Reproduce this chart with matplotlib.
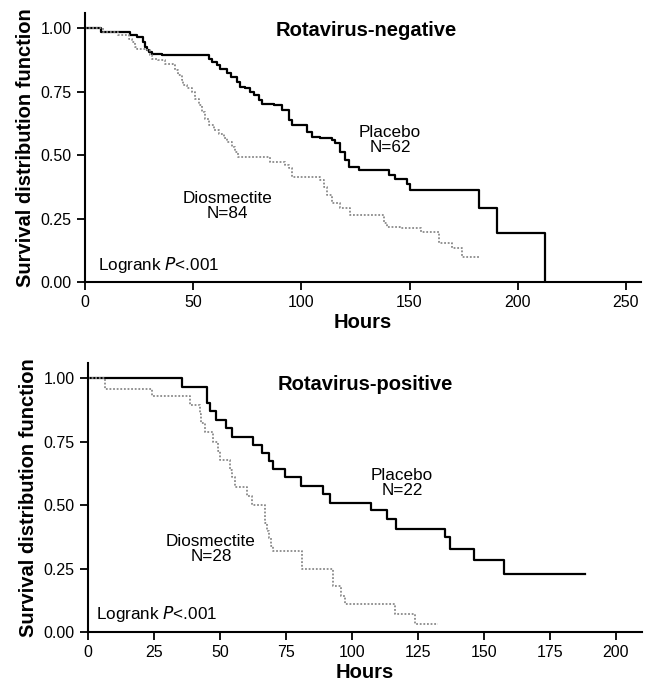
import matplotlib
matplotlib.use("Agg")
import matplotlib.pyplot as plt

plt.rcParams["font.family"] = ["Liberation Sans", "DejaVu Sans"]

# Rotavirus-negative (hours, survival after each step)
neg_placebo_t = [0, 7.6, 20.8, 23.9, 27.0, 27.8, 28.6, 29.4, 30.9, 35.5, 57.4, 58.5, 60.9, 62.5,
                 65.6, 67.6, 70.2, 71.8, 73.9, 76.4, 78.1, 80.2, 81.8, 87.2, 91.0, 94.2, 95.7,
                 102.6, 105.0, 108.8, 114.2, 115.7, 118.1, 120.4, 121.9, 126.5, 140.4, 143.5,
                 148.9, 150.4, 182.0, 190.5, 212.5]
neg_placebo_s = [1.0, 0.984, 0.972, 0.965, 0.946, 0.926, 0.916, 0.907, 0.900, 0.895, 0.880, 0.867,
                 0.854, 0.841, 0.822, 0.808, 0.789, 0.769, 0.763, 0.749, 0.736, 0.717, 0.703,
                 0.697, 0.677, 0.638, 0.618, 0.592, 0.572, 0.566, 0.559, 0.546, 0.513, 0.480,
                 0.454, 0.441, 0.421, 0.404, 0.388, 0.362, 0.290, 0.194, 0.0]

neg_diosm_t = [0, 8.5, 15.4, 20.1, 21.6, 23.1, 23.9, 28.6, 30.1, 31.0, 33.9, 37.0, 40.9, 41.6,
               43.2, 44.7, 45.5, 47.0, 49.3, 51.0, 52.5, 54.0, 55.5, 57.1, 59.4, 61.8, 64.1,
               65.6, 67.9, 69.4, 70.9, 85.7, 92.5, 94.2, 95.7, 108.8, 110.3, 111.8, 114.2,
               118.1, 122.7, 138.1, 139.6, 145.8, 155.1, 163.6, 169.7, 174.4]
neg_diosm_s = [1.0, 0.984, 0.972, 0.959, 0.946, 0.926, 0.920, 0.913, 0.893, 0.880, 0.874, 0.861,
               0.854, 0.835, 0.815, 0.795, 0.776, 0.763, 0.749, 0.723, 0.697, 0.671, 0.644,
               0.618, 0.598, 0.585, 0.566, 0.553, 0.533, 0.513, 0.494, 0.474, 0.461, 0.448,
               0.415, 0.402, 0.375, 0.343, 0.310, 0.290, 0.264, 0.231, 0.218, 0.211, 0.198,
               0.152, 0.133, 0.100]
neg_diosm_end = 182.5

# Rotavirus-positive
pos_placebo_t = [0, 35.6, 45.2, 46.4, 48.4, 52.2, 54.4, 62.6, 65.8, 68.7, 70.2, 74.7, 80.6, 89.2,
                 91.9, 107.4, 113.4, 116.9, 135.3, 137.1, 146.2, 157.7]
pos_placebo_s = [1.0, 0.965, 0.903, 0.871, 0.835, 0.804, 0.769, 0.736, 0.706, 0.673, 0.644, 0.612,
                 0.575, 0.546, 0.509, 0.480, 0.444, 0.408, 0.373, 0.329, 0.283, 0.227]
pos_placebo_end = 188.2

pos_diosm_t = [0, 6.5, 24.3, 38.5, 42.4, 43.0, 44.3, 47.5, 49.4, 50.0, 53.8, 54.5, 55.8, 60.3,
               62.3, 67.0, 67.8, 68.5, 69.5, 70.2, 81.0, 92.8, 96.0, 97.3, 116.3, 123.9]
pos_diosm_s = [1.0, 0.96, 0.93, 0.895, 0.86, 0.825, 0.79, 0.75, 0.715, 0.68, 0.64, 0.61, 0.57,
               0.535, 0.50, 0.43, 0.40, 0.37, 0.34, 0.32, 0.25, 0.18, 0.14, 0.11, 0.07, 0.03]
pos_diosm_end = 132.5

yticks = [0.0, 0.25, 0.5, 0.75, 1.0]


def km(ax, t, s, end=None, dotted=False):
    t = list(t)
    s = list(s)
    if end is not None:
        t.append(end)
        s.append(s[-1])
    if dotted:
        ax.step(t, s, where="post", color="#8a8a8a", lw=1.3, linestyle=(0, (1, 1)))
    else:
        ax.step(t, s, where="post", color="black", lw=1.6)


def style(ax, xmax, xticks):
    ax.set_xlim(0, xmax)
    ax.set_ylim(0, 1.06)
    ax.set_xticks(xticks)
    ax.set_yticks(yticks)
    ax.set_yticklabels([f"{v:.2f}" for v in yticks])
    for side in ("top", "right"):
        ax.spines[side].set_visible(False)
    for side in ("left", "bottom"):
        ax.spines[side].set_linewidth(1.5)
    ax.tick_params(direction="out", length=6, width=1.3, labelsize=11.5)
    ax.set_xlabel("Hours", fontsize=14.5, fontweight="bold", labelpad=2)
    ax.set_ylabel("Survival distribution function", fontsize=14.5, fontweight="bold", labelpad=4)


fig = plt.figure(figsize=(6.51, 6.91), dpi=100)
ax1 = fig.add_axes([0.1306, 0.592, 0.854, 0.389])
ax2 = fig.add_axes([0.1352, 0.0854, 0.851, 0.389])

km(ax1, neg_placebo_t, neg_placebo_s)
km(ax1, neg_diosm_t, neg_diosm_s, neg_diosm_end, dotted=True)
style(ax1, 257, [0, 50, 100, 150, 200, 250])
ax1.text(130, 0.99, "Rotavirus-negative", fontsize=14.5, fontweight="bold", ha="center", va="center")
ax1.text(141, 0.56, "Placebo\nN=62", fontsize=12.3, ha="center", va="center", linespacing=0.95)
ax1.text(66, 0.30, "Diosmectite\nN=84", fontsize=12.3, ha="center", va="center", linespacing=0.95)
ax1.text(6, 0.067, "Logrank $P$<.001", fontsize=12.3, ha="left", va="center")

km(ax2, pos_placebo_t, pos_placebo_s, pos_placebo_end)
km(ax2, pos_diosm_t, pos_diosm_s, pos_diosm_end, dotted=True)
style(ax2, 210, [0, 25, 50, 75, 100, 125, 150, 175, 200])
ax2.text(105, 0.976, "Rotavirus-positive", fontsize=14.5, fontweight="bold", ha="center", va="center")
ax2.text(119, 0.587, "Placebo\nN=22", fontsize=12.3, ha="center", va="center", linespacing=0.95)
ax2.text(46.6, 0.327, "Diosmectite\nN=28", fontsize=12.3, ha="center", va="center", linespacing=0.95)
ax2.text(3, 0.071, "Logrank $P$<.001", fontsize=12.3, ha="left", va="center")

fig.savefig("out.png", dpi=100)
